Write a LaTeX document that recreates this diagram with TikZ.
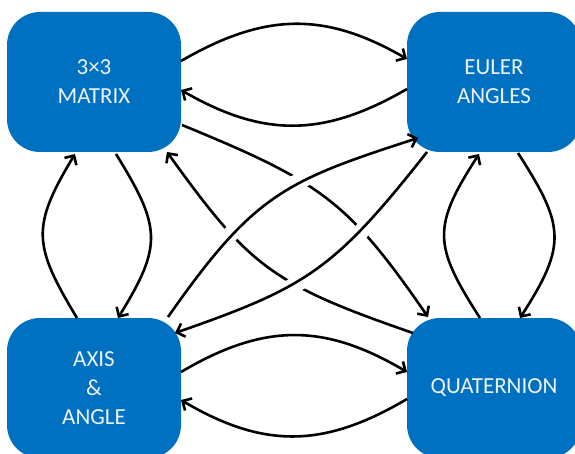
\documentclass[tikz,border=0pt]{standalone}
\usepackage{fontspec}
\setmainfont{Carlito}
\usetikzlibrary{arrows.meta,calc}
\definecolor{boxblue}{RGB}{0,112,192}
\definecolor{boxtext}{RGB}{236,242,250}
\tikzset{
  box/.style={fill=boxblue, draw=none, rounded corners=33pt, minimum width=174pt, minimum height=140pt, inner sep=0pt, align=center, text=boxtext, font=\fontsize{23}{29}\selectfont},
  conn/.style={line width=2.6pt, -{Straight Barb[length=7pt,width=14pt]}},
  over/.style={conn, preaction={draw=white, line width=16pt, -, shorten >=28pt, shorten <=28pt}}
}
\begin{document}
\begin{tikzpicture}[x=1pt,y=-1pt]
\useasboundingbox (0,0) rectangle (575,454);
\clip (0,0) rectangle (575,454);
\node[box] (mat) at (94,82) {3×3\\MATRIX};
\node[box] (eul) at (494,82) {EULER\\ANGLES};
\node[box] (axi) at (94,388) {AXIS\\\&\\ANGLE};
\node[box] (qua) at (494,388) {QUATERNION};
% horizontal pairs
\draw[conn] ($(mat)+(87,-21)$) .. controls +(83,-48) and +(-83,-48) .. ($(eul)+(-87,-23)$);
\draw[conn] ($(eul)+(-87,7)$) .. controls +(-83,48) and +(83,48) .. ($(mat)+(87,8)$);
\draw[conn] ($(axi)+(87,-16)$) .. controls +(83,-49) and +(-83,-49) .. ($(qua)+(-87,-16)$);
\draw[conn] ($(qua)+(-87,11)$) .. controls +(-83,49) and +(83,49) .. ($(axi)+(87,12)$);
% vertical pairs
\draw[conn] ($(axi)+(-17,-70)$) .. controls +(-44,-73) and +(-44,73) .. ($(mat)+(-19,72)$);
\draw[conn] ($(mat)+(22,72)$) .. controls +(45,73) and +(45,-73) .. ($(axi)+(24,-70)$);
\draw[conn] ($(qua)+(-14,-70)$) .. controls +(-47,-73) and +(-47,73) .. ($(eul)+(-15,72)$);
\draw[conn] ($(eul)+(24,71)$) .. controls +(47,73) and +(47,-73) .. ($(qua)+(26,-70)$);
% diagonals passing under
\draw[conn] ($(mat)+(88,43)$) .. controls +(139,57) and +(-80,-116) .. ($(qua)+(-66,-71)$);
\draw[conn] ($(qua)+(-81,-55)$) .. controls +(-142,-49) and +(82,114) .. ($(mat)+(73,70)$);
% diagonals passing over
\draw[over] ($(axi)+(74,-71)$) .. controls +(86,-123) and +(-133,43) .. ($(eul)+(-76,56)$);
\draw[over] ($(eul)+(-67,70)$) .. controls +(-93,118) and +(132,-46) .. ($(axi)+(81,-55)$);
\end{tikzpicture}
\end{document}
